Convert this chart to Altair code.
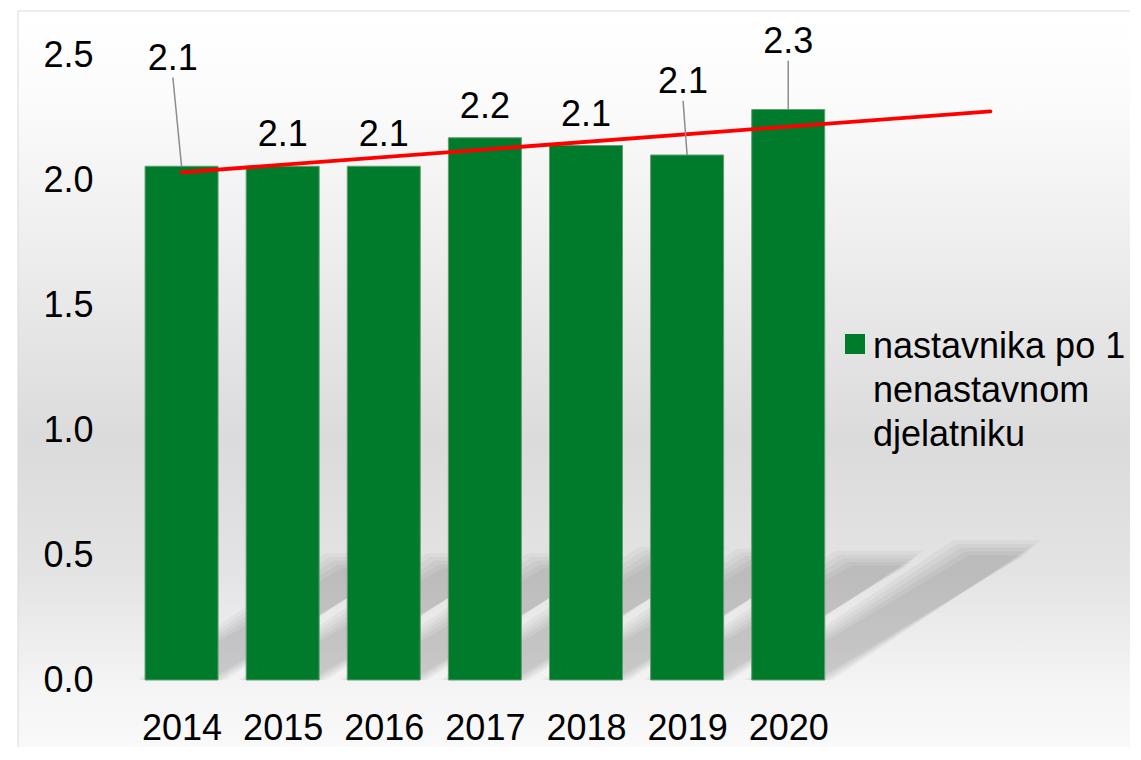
import altair as alt
import pandas as pd

# ---- data ----
years = [2014, 2015, 2016, 2017, 2018, 2019, 2020]
values = [2.055, 2.055, 2.055, 2.169, 2.138, 2.100, 2.282]
series_lines = ["nastavnika po 1", "nenastavnom", "djelatniku"]
y_ticks = [0.0, 0.5, 1.0, 1.5, 2.0, 2.5]
trend_extent = [2014, 2022]

# placement of the data labels that sit on leader lines:
# year -> (horizontal shift in years, lift above the bar in value units)
callouts = {2014: (-0.086, 0.307), 2019: (-0.04, 0.169), 2020: (0.0, 0.147)}

FONT = "Liberation Sans"
GREEN = "#007A2B"

series_name = "\n".join(series_lines)
df = pd.DataFrame({"year": years, "value": values})
df["series"] = series_name
df["label_x"] = [yr + callouts.get(yr, (0, 0))[0] for yr in years]
df["label_y"] = [v + callouts.get(yr, (0, 0))[1] for yr, v in zip(years, values)]
df["leader"] = [yr in callouts for yr in years]

# ---- perspective shadow cast by each bar (style: skew + soft edge) ----
HALF_BAR = 0.357      # half bar width, in years
SKEW_X = 0.905        # horizontal throw of the shadow per value unit, in years
SKEW_Y = 0.232        # height of the shadow per value unit
spreads = [(0.08, 0.03), (0.04, 0.015), (0.0, 0.0), (-0.04, -0.015), (-0.08, -0.03)]
shadow_rows = []
for li, (sx, sy) in enumerate(spreads):
    for yr, v in zip(years, values):
        for t in (0, 1):
            shadow_rows.append({
                "key": f"{li}-{yr}",
                "sy": t * (v * SKEW_Y + sy),
                "sx1": yr - HALF_BAR - sx + t * v * SKEW_X,
                "sx2": yr + HALF_BAR + sx + t * v * SKEW_X,
            })
shadow_df = pd.DataFrame(shadow_rows)

base = alt.Chart(df)

x_scale = alt.Scale(domain=[2013.5, 2022.5], nice=False, zero=False)
y_scale = alt.Scale(domain=[0, 2.5], nice=False)

x_axis = alt.Axis(values=years, format="d", title=None, grid=False, domain=False,
                  ticks=False, labelPadding=31, labelFontSize=36, labelFont=FONT,
                  labelColor="#000000", labelFlush=False, labelOverlap=False, zindex=2)
y_axis = alt.Axis(values=y_ticks, format=".1f", title=None, grid=False, domain=False,
                  ticks=False, labelPadding=33, labelFontSize=36, labelFont=FONT,
                  labelColor="#000000", zindex=2)

# background panel with a soft vertical gradient and thin border
gradient = {
    "gradient": "linear", "x1": 0, "y1": 0, "x2": 0, "y2": 1,
    "stops": [
        {"offset": 0.0, "color": "#ffffff"},
        {"offset": 0.12, "color": "#fbfbfb"},
        {"offset": 0.32, "color": "#ededed"},
        {"offset": 0.56, "color": "#dbdbdb"},
        {"offset": 0.73, "color": "#e3e3e3"},
        {"offset": 0.89, "color": "#f5f5f5"},
        {"offset": 1.0, "color": "#fbfbfb"},
    ],
}
background = alt.Chart(alt.Data(values=[{"panel": 1}])).mark_rect(
    fill=gradient, stroke="#d9d9d9", strokeWidth=1
).encode(
    x=alt.value(-108), x2=alt.value(1013), y=alt.value(-44), y2=alt.value(720)
)

shadows = alt.Chart(shadow_df).mark_area(
    orient="horizontal", color="#000000", opacity=0.034, interpolate="linear"
).encode(
    y=alt.Y("sy:Q", scale=y_scale, axis=y_axis),
    x=alt.X("sx1:Q", scale=x_scale, axis=x_axis),
    x2="sx2:Q",
    detail="key:N",
)

legend = alt.Legend(
    title=None, orient="none", legendX=711, legendY=285, padding=0,
    symbolType="M-1,-2.4L1,-2.4L1,-0.4L-1,-0.4Z", symbolSize=400,
    symbolStrokeWidth=0, symbolOpacity=1,
    labelFontSize=36, labelFont=FONT, labelColor="#000000",
    labelBaseline="alphabetic", labelOffset=0, labelLimit=800,
    labelExpr="split(datum.label, '\\n')",
)

bars = base.mark_bar(width=73, stroke="#5f9f70", strokeWidth=1).encode(
    x=alt.X("year:Q", scale=x_scale, axis=x_axis),
    y=alt.Y("value:Q", scale=y_scale, axis=y_axis),
    color=alt.Color("series:N", scale=alt.Scale(range=[GREEN]), legend=legend),
)

trend = base.transform_regression(
    "year", "value", extent=trend_extent
).mark_line(color="#FF0000", strokeWidth=3.8, strokeCap="round").encode(
    x=alt.X("year:Q", scale=x_scale, axis=x_axis),
    y=alt.Y("value:Q", scale=y_scale, axis=y_axis),
)

leaders = base.transform_filter("datum.leader").mark_rule(
    color="#8c8c8c", strokeWidth=1.5, y2Offset=-12
).encode(
    x=alt.X("year:Q", scale=x_scale, axis=x_axis),
    y=alt.Y("value:Q", scale=y_scale, axis=y_axis),
    x2="label_x:Q",
    y2="label_y:Q",
)

labels = base.mark_text(
    baseline="alphabetic", align="center", dy=-20, fontSize=36, font=FONT, color="#000000"
).encode(
    x=alt.X("label_x:Q", scale=x_scale, axis=x_axis),
    y=alt.Y("label_y:Q", scale=y_scale, axis=y_axis),
    text=alt.Text("value:Q", format=".1f"),
)

chart = alt.layer(background, shadows, bars, trend, leaders, labels).properties(
    width=920,
    height=625,
    autosize=alt.AutoSizeParams(type="none"),
    padding={"left": 118, "top": 47, "right": 84, "bottom": 67},
    background="white",
).configure_view(stroke=None).configure(
    style={"guide-label": {"lineHeight": 44}}
)

chart.save("out.html", embed_options={"renderer": "svg", "actions": False})
